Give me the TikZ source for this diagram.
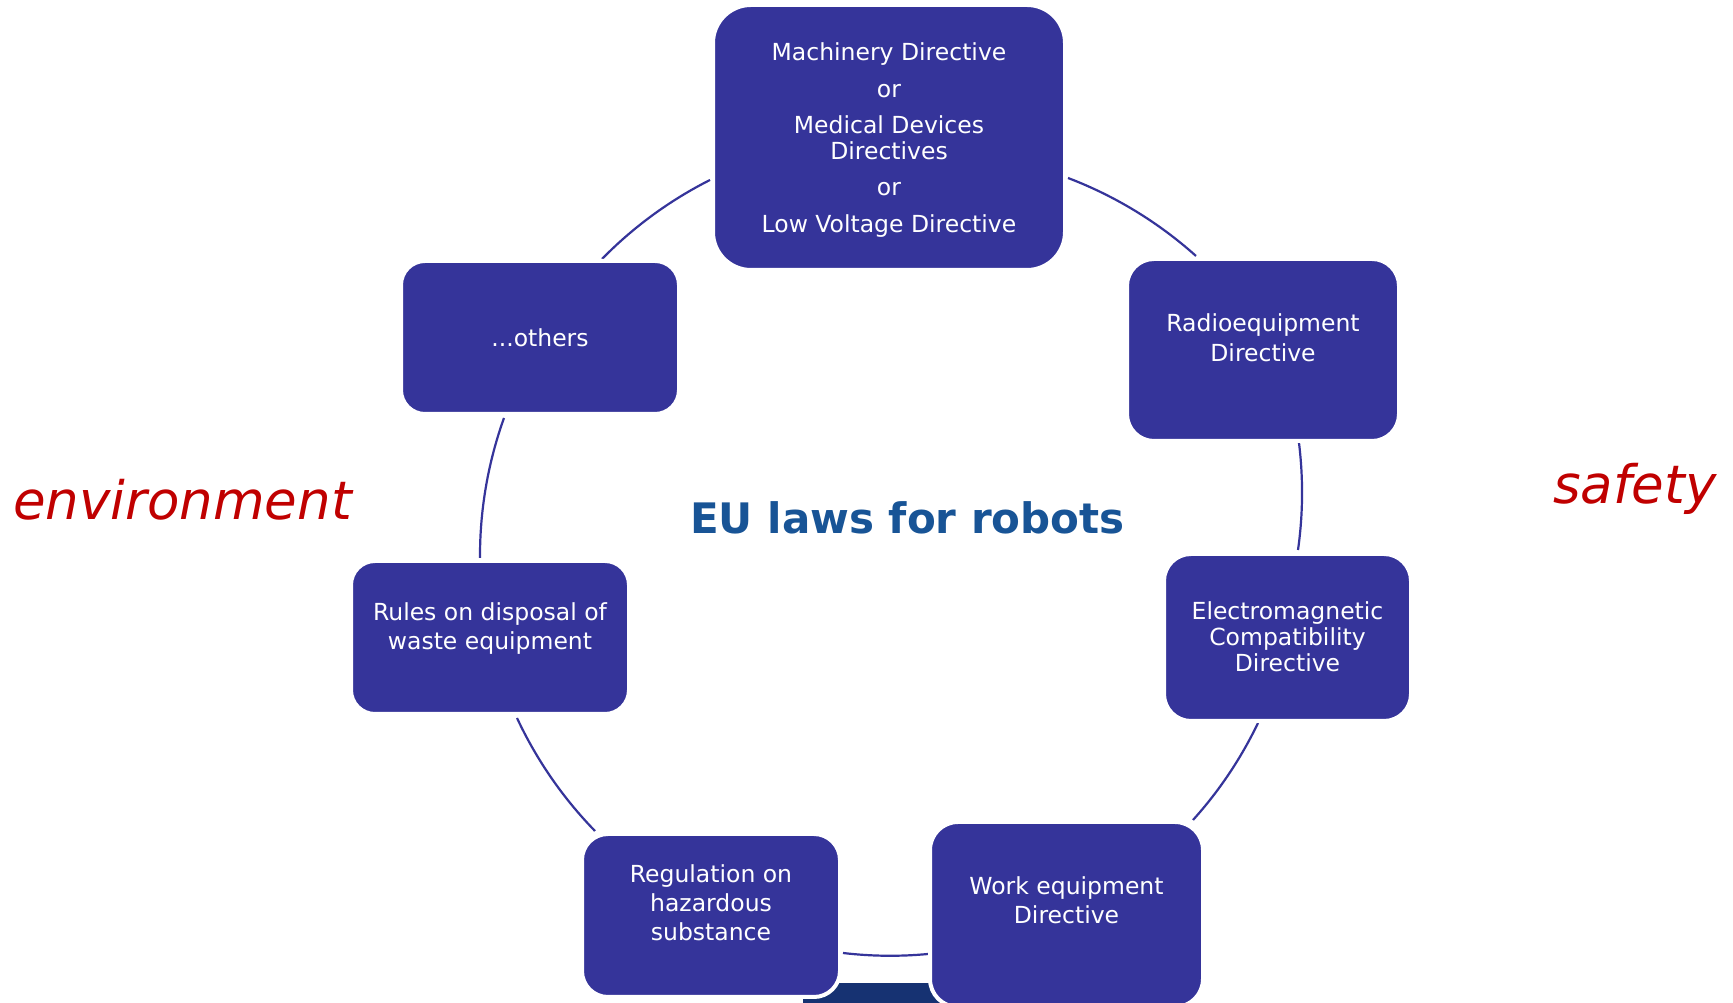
\documentclass[tikz,border=0pt]{standalone}
\usepackage{fontspec}
\setmainfont{DejaVu Sans}
\definecolor{boxblue}{RGB}{53,52,154}
\definecolor{titleblue}{RGB}{24,84,150}
\definecolor{redlabel}{RGB}{192,0,0}
\definecolor{navyblock}{RGB}{22,50,114}
\begin{document}
\begin{tikzpicture}[x=1pt,y=1pt,
  boxnode/.style={fill=boxblue, draw=white, line width=4pt, rounded corners=#1, inner sep=0pt},
  boxtext/.style={text=white, align=center, inner sep=0pt},
  link/.style={draw=boxblue, line width=2.2pt},
  sidelabel/.style={text=redlabel, inner sep=0pt, anchor=base west, font=\fontsize{53}{60}\selectfont\itshape}]
\useasboundingbox (0,0) rectangle (1733,1003);
\clip (0,0) rectangle (1733,1003);
\fill[white] (0,0) rectangle (1733,1003);

% connector end points (clockwise)
\coordinate (a1) at (602,744);  \coordinate (b1) at (710,823);
\coordinate (a2) at (1068,825); \coordinate (b2) at (1196,747);
\coordinate (a3) at (1299,560); \coordinate (b3) at (1298,453);
\coordinate (a4) at (1258,280); \coordinate (b4) at (1193,183);
\coordinate (a5) at (928,49);   \coordinate (b5) at (843,50);
\coordinate (a6) at (595,172);  \coordinate (b6) at (517,285);
\coordinate (a7) at (480,445);  \coordinate (b7) at (504,585);

\draw[link] (a1) to[bend left=9.4, looseness=0.86] (b1);
\draw[link] (a2) to[bend left=10.5, looseness=0.86] (b2);
\draw[link] (a3) to[bend left=7.5, looseness=0.86] (b3);
\draw[link] (a4) to[bend left=8.2, looseness=0.86] (b4);
\draw[link] (a5) to[bend left=6, looseness=0.86] (b5);
\draw[link] (a6) to[bend left=9.6, looseness=0.86] (b6);
\draw[link] (a7) to[bend left=10, looseness=0.86] (b7);

% partly hidden block at the bottom
\node[fill=navyblock, inner sep=0pt, minimum width=160pt, minimum height=40pt] (navy) at (883,0) {};

% boxes
\node[boxnode=38pt, minimum width=352pt, minimum height=265pt] (machinery) at (889,865.5) {};
\node[boxnode=27pt, minimum width=272pt, minimum height=182pt] (radio) at (1263,653) {};
\node[boxnode=27pt, minimum width=247pt, minimum height=167pt] (emc) at (1287.5,365.5) {};
\node[boxnode=28pt, minimum width=273pt, minimum height=185pt] (work) at (1066.5,88.5) {};
\node[boxnode=26pt, minimum width=258pt, minimum height=163pt] (hazard) at (711,87.5) {};
\node[boxnode=24pt, minimum width=278pt, minimum height=153pt] (waste) at (490,365.5) {};
\node[boxnode=24pt, minimum width=278pt, minimum height=153pt] (others) at (540,665.5) {};

% box texts
\node[boxtext, font=\fontsize{23.5}{25.5}\selectfont] (tmach) at (889,863.2)
  {Machinery Directive\\[11pt]or\\[11pt]Medical Devices\\Directives\\[11pt]or\\[11pt]Low Voltage Directive};
\node[boxtext, font=\fontsize{23.5}{30}\selectfont] (tradio) at (1263,665) {Radioequipment\\Directive};
\node[boxtext, font=\fontsize{23.5}{26}\selectfont] (temc) at (1287.5,366) {Electromagnetic\\Compatibility\\Directive};
\node[boxtext, font=\fontsize{23.5}{29}\selectfont] (twork) at (1066.5,102.5) {Work equipment\\Directive};
\node[boxtext, font=\fontsize{23.5}{29}\selectfont] (thazard) at (711,100) {Regulation on\\hazardous\\substance};
\node[boxtext, font=\fontsize{23.5}{29}\selectfont] (twaste) at (490,374.7) {Rules on disposal of\\waste equipment};
\node[boxtext, font=\fontsize{23.5}{29}\selectfont] (tothers) at (540,665) {...others};

% labels
\node[sidelabel] (env) at (13,483) {environment};
\node[sidelabel] (safety) at (1553,499) {safety};
\node[inner sep=0pt, anchor=base, text=titleblue, font=\fontsize{42}{48}\selectfont\bfseries] (title) at (907.5,469) {EU laws for robots};
\end{tikzpicture}
\end{document}
